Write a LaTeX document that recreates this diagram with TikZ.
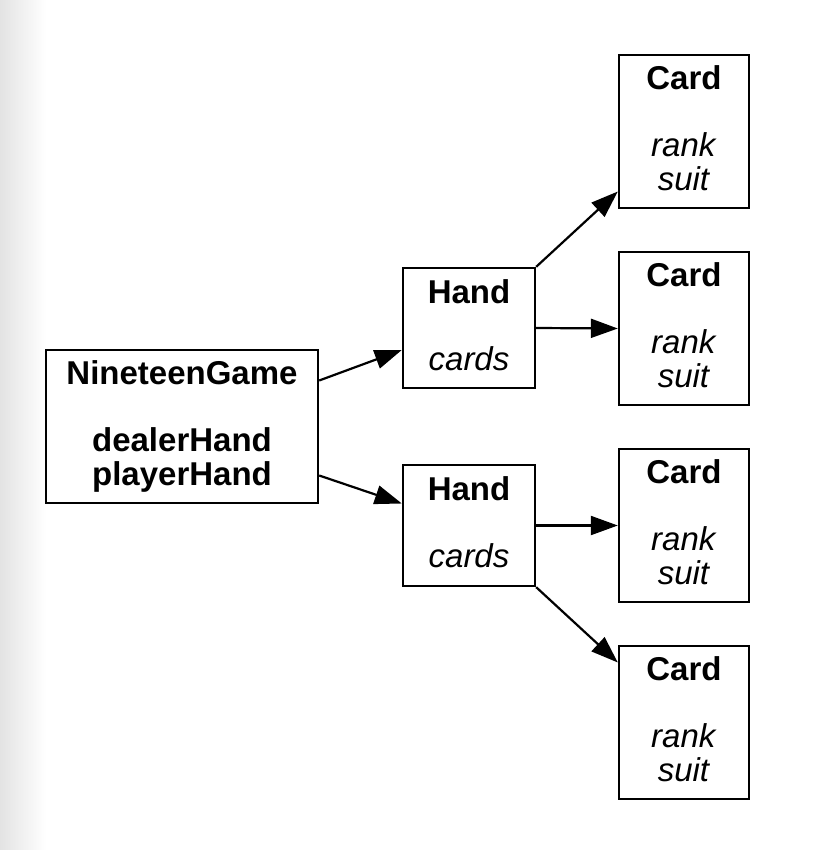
\documentclass[tikz,border=0pt]{standalone}
\usepackage{fontspec}
\setmainfont{Liberation Sans}
\usetikzlibrary{arrows.meta}
\begin{document}
\begin{tikzpicture}[x=1pt,y=-1pt,
  box/.style={draw=black, line width=2.4pt, fill=white, rectangle, inner sep=0pt,
    align=center, text depth=6.5pt,
    font=\fontsize{33}{33.5}\selectfont},
  link/.style={line width=2.2pt, -{Triangle[length=27pt,width=19pt]}}]
\useasboundingbox (0,0) rectangle (812,850);
\shade[left color=black!11, right color=white] (0,0) rectangle (46,850);
\node[box, minimum width=272pt, minimum height=153pt] (ng) at (182,426.5)
  {\textbf{NineteenGame}\\[33.5pt]\textbf{dealerHand}\\\textbf{playerHand}};
\node[box, minimum width=132pt, minimum height=120pt] (h1) at (469,328)
  {\textbf{Hand}\\[33.5pt]\textit{cards}};
\node[box, minimum width=132pt, minimum height=121pt] (h2) at (469,525.5)
  {\textbf{Hand}\\[33.5pt]\textit{cards}};
\node[box, minimum width=130pt, minimum height=153pt] (c1) at (684,131.5)
  {\textbf{Card}\\[33.5pt]\textit{rank}\\\textit{suit}};
\node[box, minimum width=130pt, minimum height=153pt] (c2) at (684,328.5)
  {\textbf{Card}\\[33.5pt]\textit{rank}\\\textit{suit}};
\node[box, minimum width=130pt, minimum height=153pt] (c3) at (684,525.5)
  {\textbf{Card}\\[33.5pt]\textit{rank}\\\textit{suit}};
\node[box, minimum width=130pt, minimum height=153pt] (c4) at (684,722.5)
  {\textbf{Card}\\[33.5pt]\textit{rank}\\\textit{suit}};
\draw[link] ([yshift=46pt]ng.east) -- ([yshift=-22pt]h1.west);
\draw[link] ([yshift=-49pt]ng.east) -- ([yshift=22pt]h2.west);
\draw[link] (h1.north east) -- ([yshift=-60pt]c1.west);
\draw[link] (h1.east) -- (c2.west);
\draw[link] (h2.east) -- (c3.west);
\draw[link] (h2.south east) -- ([yshift=60pt]c4.west);
\end{tikzpicture}
\end{document}
